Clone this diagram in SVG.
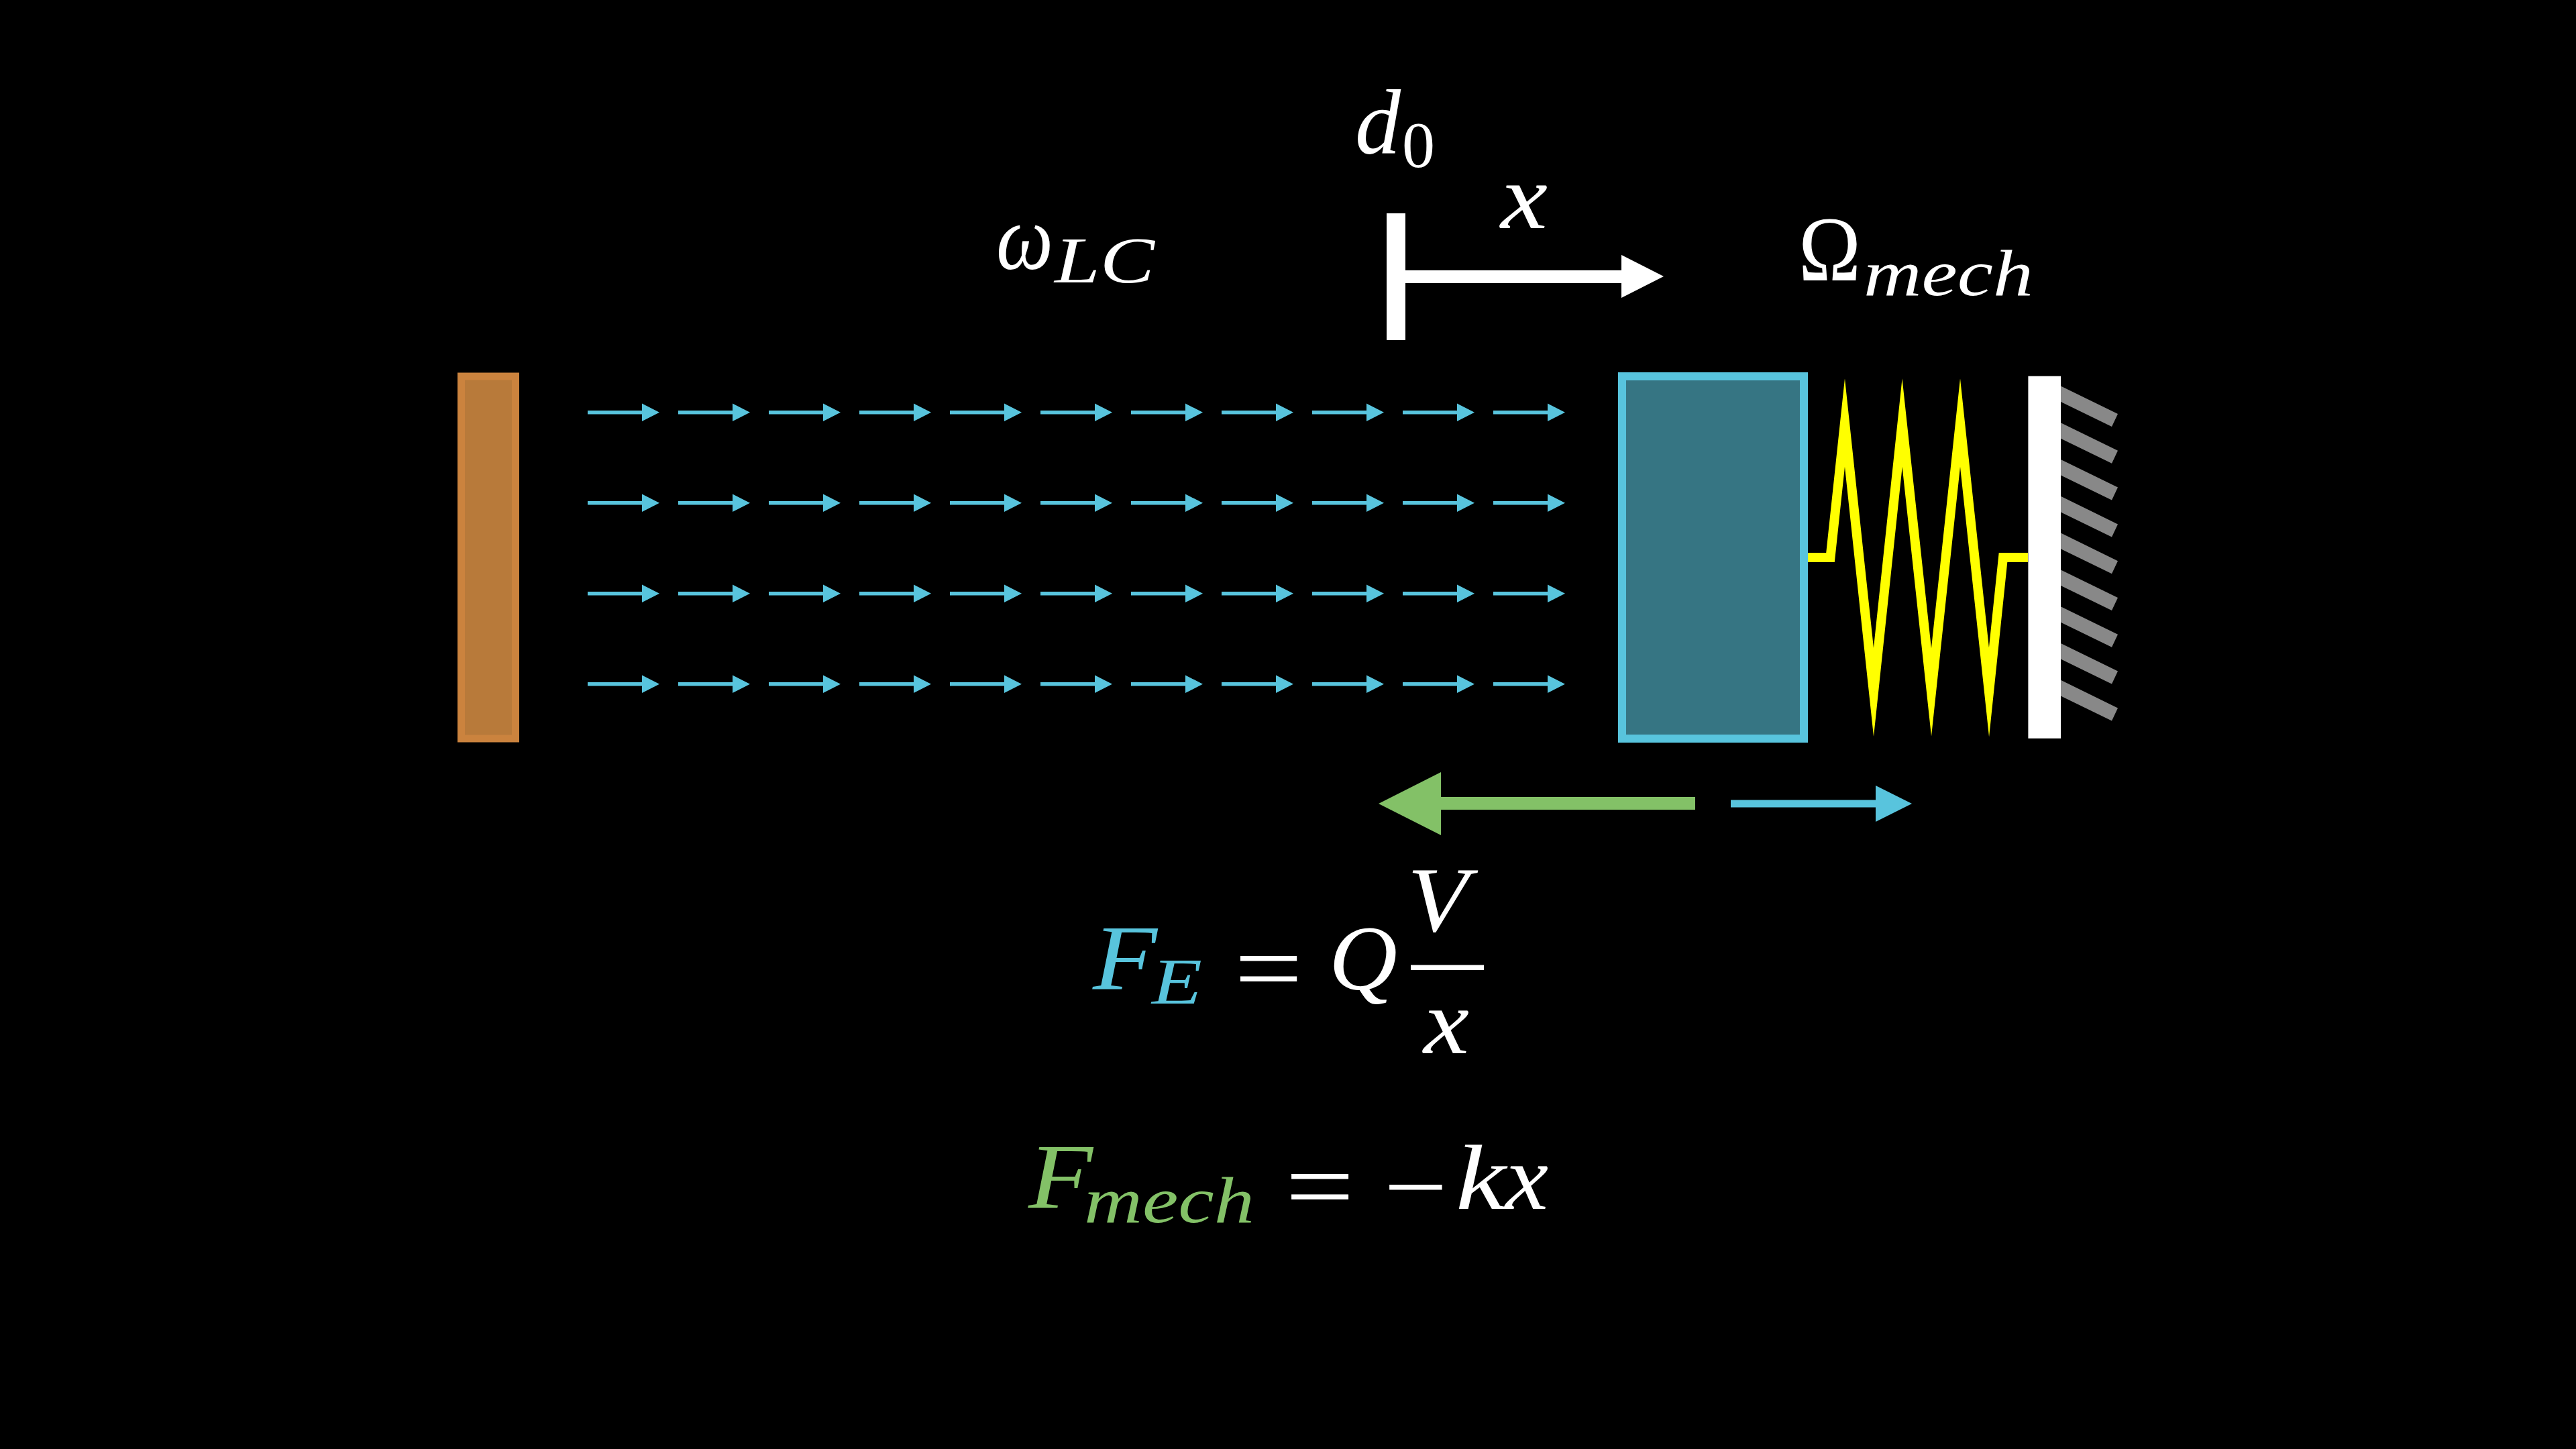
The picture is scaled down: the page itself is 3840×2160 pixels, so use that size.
<svg xmlns="http://www.w3.org/2000/svg" width="3840" height="2160" viewBox="0 0 3840 2160">
<style>
text{font-family:"Liberation Serif","Times New Roman",serif;font-style:italic;font-size:138px;fill:#fff}
.s{font-size:97px}
.u{font-style:normal}
.e{font-size:152px}
.b{fill:#58c4dd}
.g{fill:#83c167}
.h{fill:#888}
.w{fill:#fff}
</style>
<defs>
<g id="field"><rect x="876" y="612" width="82" height="5.5" class="b"/><polygon points="957,601.5 983,614.75 957,628" class="b"/></g>
<polygon id="hatch" points="3072,575.4 3157,617 3148,636 3072,599" class="h"/>
</defs>
<rect width="3840" height="2160" fill="#000"/>
<g id="plate-left"><rect x="687.5" y="561" width="81" height="540" fill="#b87a3a" stroke="#cb833e" stroke-width="11"/></g>
<g id="plate-right"><rect x="2418" y="561" width="271" height="540" fill="#367583" stroke="#58c4dd" stroke-width="12"/></g>
<g id="spring"><polyline points="2695,831 2728.5,831 2750,630 2793,1032 2835.6,630 2879,1032 2922,630 2965,1032 2986,831 3023,831" fill="none" stroke="#ff0" stroke-width="14" stroke-miterlimit="14"/></g>
<g id="wall">
<rect x="3023.4" y="560.7" width="48.6" height="540" class="w"/>
<use href="#hatch"/><use href="#hatch" y="54.8"/><use href="#hatch" y="109.6"/><use href="#hatch" y="164.4"/><use href="#hatch" y="219.2"/><use href="#hatch" y="274"/><use href="#hatch" y="328.8"/><use href="#hatch" y="383.6"/><use href="#hatch" y="438.4"/>
</g>
<g id="connectors">
<g id="field-row-1"><use href="#field"/><use href="#field" x="135"/><use href="#field" x="270"/><use href="#field" x="405"/><use href="#field" x="540"/><use href="#field" x="675"/><use href="#field" x="810"/><use href="#field" x="945"/><use href="#field" x="1080"/><use href="#field" x="1215"/><use href="#field" x="1350"/></g>
<g id="field-row-2" transform="translate(0,135)"><use href="#field"/><use href="#field" x="135"/><use href="#field" x="270"/><use href="#field" x="405"/><use href="#field" x="540"/><use href="#field" x="675"/><use href="#field" x="810"/><use href="#field" x="945"/><use href="#field" x="1080"/><use href="#field" x="1215"/><use href="#field" x="1350"/></g>
<g id="field-row-3" transform="translate(0,270)"><use href="#field"/><use href="#field" x="135"/><use href="#field" x="270"/><use href="#field" x="405"/><use href="#field" x="540"/><use href="#field" x="675"/><use href="#field" x="810"/><use href="#field" x="945"/><use href="#field" x="1080"/><use href="#field" x="1215"/><use href="#field" x="1350"/></g>
<g id="field-row-4" transform="translate(0,405)"><use href="#field"/><use href="#field" x="135"/><use href="#field" x="270"/><use href="#field" x="405"/><use href="#field" x="540"/><use href="#field" x="675"/><use href="#field" x="810"/><use href="#field" x="945"/><use href="#field" x="1080"/><use href="#field" x="1215"/><use href="#field" x="1350"/></g>
<g id="x-arrow"><rect x="2067" y="318" width="28" height="189" class="w"/><rect x="2095" y="403" width="322" height="19" class="w"/><polygon points="2417,380 2480,412 2417,444" class="w"/></g>
<g id="force-mech-arrow"><rect x="2148" y="1188" width="379" height="19" class="g"/><polygon points="2148,1151 2055,1198 2148,1245" class="g"/></g>
<g id="force-e-arrow"><rect x="2580" y="1192.5" width="216" height="11" class="b"/><polygon points="2796,1171 2850,1198 2796,1225" class="b"/></g>
</g>
<g id="label-d0"><text x="2020" y="229" textLength="68" lengthAdjust="spacingAndGlyphs">d</text><text class="s u" x="2090" y="249" textLength="49" lengthAdjust="spacingAndGlyphs">0</text></g>
<g id="label-x"><text x="2237" y="340" textLength="70" lengthAdjust="spacingAndGlyphs">x</text></g>
<g id="label-omega-lc"><text x="1485" y="401" textLength="85" lengthAdjust="spacingAndGlyphs">ω</text><text class="s" x="1572" y="421" textLength="149" lengthAdjust="spacingAndGlyphs">LC</text></g>
<g id="label-omega-mech"><text class="u" x="2681" y="418" textLength="93" lengthAdjust="spacingAndGlyphs">Ω</text><text class="s" x="2778" y="440" textLength="253" lengthAdjust="spacingAndGlyphs">mech</text></g>
<g id="equation-fe">
<text class="b" x="1629" y="1475" textLength="96" lengthAdjust="spacingAndGlyphs">F</text><text class="s b" x="1717" y="1496" textLength="75" lengthAdjust="spacingAndGlyphs">E</text>
<text class="u e" x="1840" y="1495" textLength="102" lengthAdjust="spacingAndGlyphs">=</text>
<text x="1981" y="1475" textLength="102" lengthAdjust="spacingAndGlyphs">Q</text>
<text x="2098" y="1388" textLength="91" lengthAdjust="spacingAndGlyphs">V</text>
<rect x="2103" y="1438.5" width="109" height="7.5" class="w"/>
<text x="2122" y="1570" textLength="68" lengthAdjust="spacingAndGlyphs">x</text>
</g>
<g id="equation-fmech">
<text class="g" x="1533" y="1801" textLength="96" lengthAdjust="spacingAndGlyphs">F</text><text class="s g" x="1616" y="1822" textLength="254" lengthAdjust="spacingAndGlyphs">mech</text>
<text class="u e" x="1916" y="1820" textLength="103" lengthAdjust="spacingAndGlyphs">=</text>
<text class="u e" x="2063" y="1820" textLength="95" lengthAdjust="spacingAndGlyphs">−</text>
<text x="2170" y="1802" textLength="75" lengthAdjust="spacingAndGlyphs">k</text>
<text x="2244" y="1802" textLength="64" lengthAdjust="spacingAndGlyphs">x</text>
</g>
</svg>
